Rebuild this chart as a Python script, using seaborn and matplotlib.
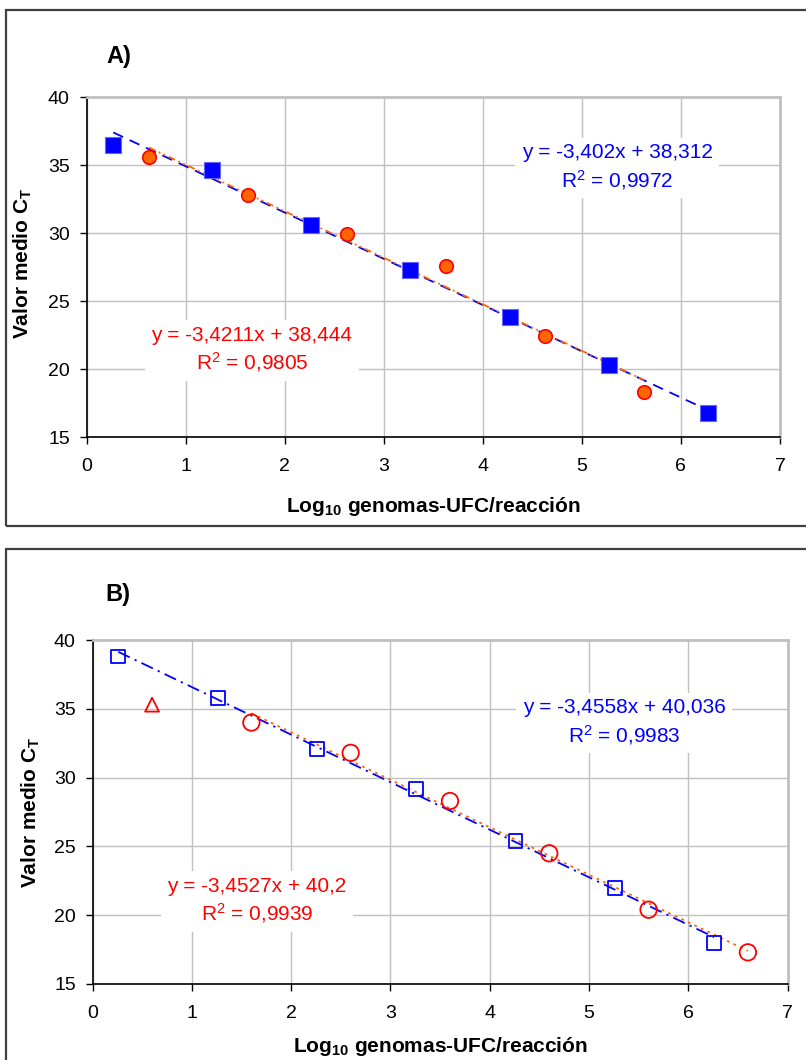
import numpy as np
import pandas as pd
import matplotlib
matplotlib.use("Agg")
import matplotlib.pyplot as plt
import seaborn as sns
from matplotlib.patches import Rectangle

# ---------------- data ----------------
x_ticks = [0, 1, 2, 3, 4, 5, 6, 7]
y_ticks = [15, 20, 25, 30, 35, 40]

# Panel A
a_sq_x = [0.27, 1.27, 2.27, 3.27, 4.27, 5.27, 6.27]
a_sq_y = [36.5, 34.6, 30.6, 27.3, 23.8, 20.3, 16.8]
a_ci_x = [0.63, 1.63, 2.63, 3.63, 4.63, 5.63]
a_ci_y = [35.6, 32.8, 29.9, 27.6, 22.4, 18.3]
a_blue_fit = (-3.402, 38.312)
a_red_fit = (-3.4211, 38.444)
a_blue_txt = "y = -3,402x + 38,312\nR$^2$ = 0,9972"
a_red_txt = "y = -3,4211x + 38,444\nR$^2$ = 0,9805"

# Panel B
b_sq_x = [0.26, 1.26, 2.26, 3.26, 4.26, 5.26, 6.26]
b_sq_y = [38.8, 35.8, 32.1, 29.2, 25.4, 22.0, 18.0]
b_ci_x = [1.60, 2.60, 3.60, 4.60, 5.60, 6.60]
b_ci_y = [34.0, 31.8, 28.3, 24.5, 20.4, 17.3]
b_tri_x = [0.60]
b_tri_y = [35.3]
b_blue_fit = (-3.4558, 40.036)
b_red_fit = (-3.4527, 40.2)
b_blue_txt = "y = -3,4558x + 40,036\nR$^2$ = 0,9983"
b_red_txt = "y = -3,4527x + 40,2\nR$^2$ = 0,9939"

xlabel = r"Log$\mathbf{_{10}}$ genomas-UFC/reacción"
ylabel = r"Valor medio C$\mathbf{_{T}}$"

BLUE = "#0000FF"
RED = "#FF0000"
ORANGE = "#FF6600"

# ---------------- style ----------------
sns.set_style("white")
plt.rcParams["font.family"] = ["Liberation Sans", "DejaVu Sans"]
plt.rcParams["mathtext.fontset"] = "custom"
plt.rcParams["mathtext.rm"] = "Liberation Sans"
plt.rcParams["mathtext.it"] = "Liberation Sans"
plt.rcParams["mathtext.bf"] = "Liberation Sans:bold"
plt.rcParams["mathtext.default"] = "rm"
for k in ["text.color", "axes.labelcolor", "xtick.color", "ytick.color"]:
    plt.rcParams[k] = "black"

W, H = 806, 1060
fig = plt.figure(figsize=(W / 100, H / 100), dpi=100)


def fig_rect(l, t, r, b):
    return [l / W, 1 - b / H, (r - l) / W, (b - t) / H]


# outer frames
fig.patches.append(Rectangle((6 / W, 1 - 526 / H), 2, (526 - 10) / H,
                             transform=fig.transFigure, fill=False,
                             edgecolor="#404040", lw=1.6))
fig.patches.append(Rectangle((6 / W, -0.1), 2, 0.1 + (1 - 549 / H),
                             transform=fig.transFigure, fill=False,
                             edgecolor="#404040", lw=1.6))

axA = fig.add_axes(fig_rect(86.5, 97, 780, 437))
axB = fig.add_axes(fig_rect(92.5, 640, 787.6, 984))


def fit_line(ax, xs, fit, color, ls):
    x_end = [min(xs), max(xs)]
    y_end = [fit[0] * v + fit[1] for v in x_end]
    sns.lineplot(x=x_end, y=y_end, ax=ax, color=color, lw=1.3,
                 linestyle=ls, zorder=2, estimator=None)


def style_axes(ax):
    ax.set_xlim(0, 7)
    ax.set_ylim(15, 40)
    ax.set_xticks(x_ticks)
    ax.set_yticks(y_ticks)
    ax.grid(True, color="#C0C0C0", lw=1)
    ax.set_axisbelow(True)
    for s in ["left", "bottom"]:
        ax.spines[s].set_color("black")
        ax.spines[s].set_linewidth(1.2)
    for s in ["top", "right"]:
        ax.spines[s].set_visible(True)
        ax.spines[s].set_color("#C0C0C0")
        ax.spines[s].set_linewidth(2)
    ax.tick_params(axis="both", direction="out", length=5, width=1,
                   color="black", labelcolor="black", labelsize=14,
                   left=True, bottom=True)
    ax.tick_params(axis="x", pad=10)
    ax.tick_params(axis="y", pad=7)


TXT = dict(ha="center", va="center", multialignment="center", fontsize=15,
           linespacing=1.3, zorder=4)
BOX = dict(boxstyle="square,pad=0.3", fc="white", ec="none")

# ---------- Panel A ----------
style_axes(axA)
fit_line(axA, a_sq_x, a_blue_fit, BLUE, (0, (6, 4)))
fit_line(axA, a_ci_x, a_red_fit, ORANGE, (0, (4, 2, 1, 2, 1, 2)))
sns.scatterplot(x=a_sq_x, y=a_sq_y, ax=axA, marker="s", s=140,
                color=BLUE, edgecolor="#6666FF", linewidth=0.8, zorder=3)
sns.scatterplot(x=a_ci_x, y=a_ci_y, ax=axA, marker="o", s=95,
                color=ORANGE, edgecolor=RED, linewidth=1.2, zorder=3)
axA.text(0.765, 0.793, a_blue_txt, transform=axA.transAxes, color=BLUE,
         bbox=BOX, **TXT)
axA.text(0.2386, 0.256, a_red_txt, transform=axA.transAxes, color=RED,
         bbox=BOX, **TXT)
axA.set_xlabel(xlabel, fontsize=15, fontweight="bold")
axA.set_ylabel(ylabel, fontsize=15, fontweight="bold", va="center")
axA.xaxis.set_label_coords(0.5, -0.172)
axA.yaxis.set_label_coords(-0.0916, 0.51)
fig.text(106 / W, 1 - 57 / H, "A)", fontsize=17, fontweight="bold",
         ha="left", va="center")

# ---------- Panel B ----------
style_axes(axB)
fit_line(axB, b_sq_x, b_blue_fit, BLUE, (0, (7, 3, 1.2, 3)))
fit_line(axB, b_ci_x, b_red_fit, ORANGE, (0, (1.5, 2.5)))
sns.scatterplot(x=b_sq_x, y=b_sq_y, ax=axB, marker="s", s=100,
                facecolor="none", edgecolor=BLUE, linewidth=1.3, zorder=3)
sns.scatterplot(x=b_ci_x, y=b_ci_y, ax=axB, marker="o", s=140,
                facecolor="none", edgecolor=RED, linewidth=1.3, zorder=3)
sns.scatterplot(x=b_tri_x, y=b_tri_y, ax=axB, marker="^", s=100,
                facecolor="none", edgecolor=RED, linewidth=1.3, zorder=3)
axB.text(0.7647, 0.760, b_blue_txt, transform=axB.transAxes, color=BLUE,
         bbox=BOX, **TXT)
axB.text(0.2367, 0.241, b_red_txt, transform=axB.transAxes, color=RED,
         bbox=BOX, **TXT)
axB.set_xlabel(xlabel, fontsize=15, fontweight="bold")
axB.set_ylabel(ylabel, fontsize=15, fontweight="bold", va="center")
axB.xaxis.set_label_coords(0.5, -0.148)
axB.yaxis.set_label_coords(-0.0885, 0.5)
fig.text(105 / W, 1 - 595 / H, "B)", fontsize=17, fontweight="bold",
         ha="left", va="center")

fig.savefig("out.png", dpi=100)
